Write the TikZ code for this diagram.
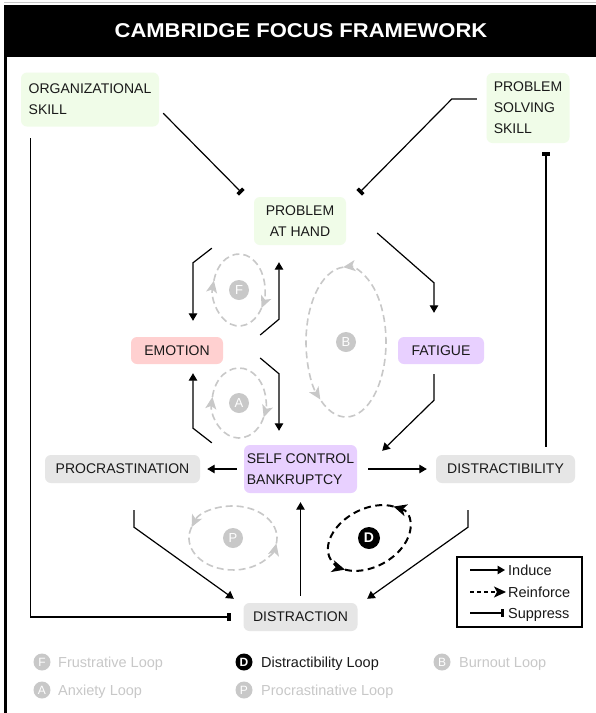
\documentclass[tikz,border=0pt]{standalone}
\usepackage{fontspec}
\usepackage{graphicx}
\setmainfont{Liberation Sans}
\usetikzlibrary{arrows.meta}
\definecolor{gfill}{RGB}{240,252,232}
\definecolor{pfill}{RGB}{255,208,208}
\definecolor{vfill}{RGB}{232,208,255}
\definecolor{sfill}{RGB}{230,230,230}
\definecolor{loopc}{RGB}{200,200,200}
\definecolor{txt}{RGB}{25,25,25}
\begin{document}
\begin{tikzpicture}[x=1pt,y=-1pt,
  box/.style={rounded corners=6pt,inner sep=0pt,text=txt,font=\fontsize{14}{21}\selectfont},
  link/.style={line width=1.2pt,draw=black},
  induce/.style={link,-{Triangle[length=7.5pt,width=8.5pt]}},
  suppress/.style={link,-{Rectangle[length=3.5pt,width=8pt]}},
  loopg/.style={draw=loopc,line width=1.6pt,dash pattern=on 7pt off 4pt,-{Stealth[length=12pt,width=11pt,inset=3pt]}},
  loopd/.style={draw=black,line width=2pt,dash pattern=on 7pt off 4.5pt,-{Stealth[length=13pt,width=12pt,inset=3.5pt]}},
  dotg/.style={circle,fill=loopc,text=white,inner sep=0pt,minimum size=20pt,font=\fontsize{13}{13}\selectfont},
  keyg/.style={circle,fill=loopc,text=white,inner sep=0pt,minimum size=17pt,font=\fontsize{12}{12}\selectfont},
  keytxt/.style={anchor=base west,inner sep=0pt,font=\fontsize{14.5}{16}\selectfont,text=loopc},
  legtxt/.style={anchor=base west,inner sep=0pt,font=\fontsize{14.5}{16}\selectfont,text=txt},
]
\useasboundingbox (0,0) rectangle (596,713);
\fill[white] (0,0) rectangle (596,713);
% frame and title
\draw[line width=1pt,draw=black!22] (4,2.5) -- (596,2.5);
\fill[black] (4,5) rectangle (596,57);
\fill[black] (4,5) rectangle (6.5,713);
\node[text=white,font=\fontsize{20}{24}\selectfont\bfseries] (title) at (301,31) {\scalebox{1.1}[1]{CAMBRIDGE FOCUS FRAMEWORK}};

% nodes
\node[box,fill=gfill,minimum width=138pt,minimum height=54pt,align=left] (org) at (90,99.5) {ORGANIZATIONAL\\SKILL};
\node[box,fill=gfill,minimum width=83pt,minimum height=70pt,align=left] (pss) at (528,108) {PROBLEM\\SOLVING\\SKILL};
\node[box,fill=gfill,minimum width=92pt,minimum height=48pt,align=center] (pah) at (300,221) {PROBLEM\\AT HAND};
\node[box,fill=pfill,minimum width=92pt,minimum height=27pt] (emo) at (177,350.5) {EMOTION};
\node[box,fill=vfill,minimum width=86pt,minimum height=27pt] (fat) at (441,350.5) {FATIGUE};
\node[box,fill=vfill,minimum width=113pt,minimum height=48pt,align=left] (scb) at (300.5,469) {SELF CONTROL\\BANKRUPTCY};
\node[box,fill=sfill,minimum width=155pt,minimum height=28pt] (pro) at (122.5,469) {PROCRASTINATION};
\node[box,fill=sfill,minimum width=139pt,minimum height=28pt] (dty) at (505.5,469) {DISTRACTIBILITY};
\node[box,fill=sfill,minimum width=114pt,minimum height=28pt] (dis) at (300.5,617) {DISTRACTION};

% suppress connectors
\draw[suppress] ([shift={(4,-13.5)}]org.south east) -- ([shift={(-12,-4)}]pah.north west);
\draw[suppress] ([shift={(-9.5,-9)}]pss.west) -- ([shift={(-34.5,-9)}]pss.west) -- ([shift={(13,-4)}]pah.north east);
\draw[suppress] ([shift={(40.5,-8)}]dty.north) -- ([shift={(18,9)}]pss.south);
\draw[suppress] ([shift={(10,11.5)}]org.south west) |- ([shift={(-12.5,0)}]dis.west);

% induce connectors
\draw[induce] ([shift={(31,12)}]pah.east) -- ([shift={(-7,-54)}]fat.north) -- ([shift={(-7,-24)}]fat.north);
\draw[induce] ([shift={(-42,3)}]pah.south west) -- ([shift={(16,-74)}]emo.north) -- ([shift={(16,-16)}]emo.north);
\draw[induce] ([shift={(37,-15.5)}]emo.east) -- ([shift={(-21,74)}]pah.south) -- ([shift={(-21,17)}]pah.south);
\draw[induce] ([shift={(37,7.5)}]emo.east) -- ([shift={(-21.5,-71)}]scb.north) -- ([shift={(-21.5,-14)}]scb.north);
\draw[induce] ([shift={(-32,-2)}]scb.north west) -- ([shift={(16,64)}]emo.south) -- ([shift={(16,9)}]emo.south);
\draw[induce] ([shift={(-7,10)}]fat.south) -- ([shift={(-7,36)}]fat.south) -- ([shift={(25,6)}]scb.north east);
\draw[induce] ([shift={(-7,0)}]scb.west) -- ([shift={(7,0)}]pro.east);
\draw[induce] ([shift={(11,0)}]scb.east) -- ([shift={(-9,0)}]dty.west);
\draw[induce] ([shift={(11.5,27)}]pro.south) -- ([shift={(11.5,44)}]pro.south) -- ([shift={(-9.5,-4)}]dis.north west);
\draw[induce] ([shift={(-37.5,27)}]dty.south) -- ([shift={(-37.5,44)}]dty.south) -- ([shift={(9.5,-4)}]dis.north east);
\draw[induce] ([shift={(0,-7)}]dis.north) -- ([shift={(0,9)}]scb.south);

% loops
\node[dotg] (lf) at (239,290) {F};
\draw[loopg] ([shift={(30:26 and 36)}]239,290) arc[start angle=30,end angle=195,x radius=26,y radius=36];
\draw[loopg] ([shift={(195:26 and 36)}]239,290) arc[start angle=195,end angle=390,x radius=26,y radius=36];

\node[dotg] (la) at (239,403) {A};
\draw[loopg] ([shift={(24:27 and 35)}]239,403) arc[start angle=24,end angle=190,x radius=27,y radius=35];
\draw[loopg] ([shift={(190:27 and 35)}]239,403) arc[start angle=190,end angle=384,x radius=27,y radius=35];

\node[dotg] (lb) at (346,342) {B};
\draw[loopg] ([shift={(128:40 and 75)}]346,342) arc[start angle=128,end angle=-94,x radius=40,y radius=75];
\draw[loopg] ([shift={(-94:40 and 75)}]346,342) arc[start angle=-94,end angle=-230,x radius=40,y radius=75];

\node[dotg] (lp) at (233,538) {P};
\draw[loopg] ([shift={(10:44 and 32)}]233,538) arc[start angle=10,end angle=-160,x radius=44,y radius=32];
\draw[loopg] ([shift={(200:44 and 32)}]233,538) arc[start angle=200,end angle=10,x radius=44,y radius=32];

\node[dotg,fill=black,minimum size=22pt,font=\fontsize{14}{14}\selectfont\bfseries] (ld) at (369,538) {D};
\begin{scope}[shift={(369,538)},rotate=28]
\draw[loopd] (326:44 and 29) arc[start angle=326,end angle=145,x radius=44,y radius=29];
\draw[loopd] (145:44 and 29) arc[start angle=145,end angle=-34,x radius=44,y radius=29];
\end{scope}

% legend box
\node[draw=black,line width=1.2pt,minimum width=125pt,minimum height=70pt,inner sep=0pt] (leg) at (519.5,592) {};
\node[legtxt] (lgi) at (508,575) {Induce};
\node[legtxt] (lgr) at (508,597) {Reinforce};
\node[legtxt] (lgs) at (508,618) {Suppress};
\draw[induce] ([shift={(-38,-5)}]lgi.base west) -- ([shift={(-3,-5)}]lgi.base west);
\draw[line width=1.2pt,dash pattern=on 4pt off 3pt,-{Stealth[length=12pt,width=11pt,inset=3pt]}] ([shift={(-38,-5)}]lgr.base west) -- ([shift={(-2,-5)}]lgr.base west);
\draw[suppress] ([shift={(-38,-5)}]lgs.base west) -- ([shift={(-4,-5)}]lgs.base west);

% bottom key
\node[keyg] (kf) at (42,662) {F};
\node[keytxt] (kft) at (58,667.2) {Frustrative Loop};
\node[keyg,fill=black,font=\fontsize{12}{12}\selectfont\bfseries] (kd) at (244,662) {D};
\node[keytxt,text=txt] (kdt) at (261,667.2) {Distractibility Loop};
\node[keyg] (kb) at (442,662) {B};
\node[keytxt] (kbt) at (459,667.2) {Burnout Loop};
\node[keyg] (ka) at (42,690) {A};
\node[keytxt] (kat) at (58,695.2) {Anxiety Loop};
\node[keyg] (kp) at (244,690) {P};
\node[keytxt] (kpt) at (261,695.2) {Procrastinative Loop};
\end{tikzpicture}
\end{document}
